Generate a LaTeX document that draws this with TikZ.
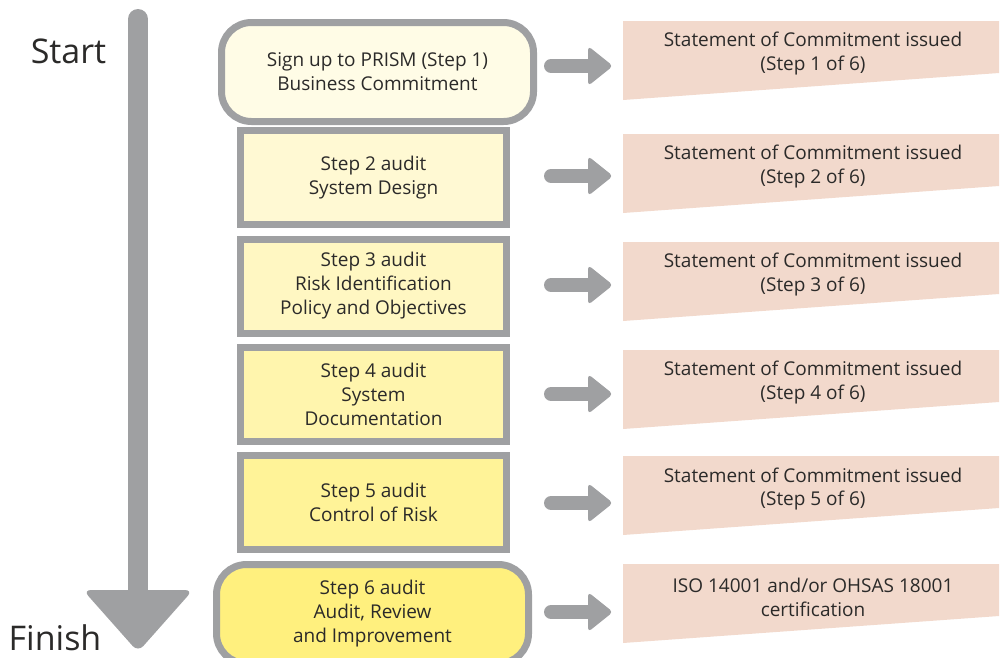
\documentclass[tikz,border=0pt]{standalone}
\usepackage{fontspec}
\setmainfont{Open Sans}
\usetikzlibrary{calc}
\definecolor{grayc}{HTML}{9FA0A2}
\definecolor{txt}{HTML}{2B2A29}
\definecolor{panelc}{HTML}{F2D9CC}
\definecolor{fa}{HTML}{FFFCE6}
\definecolor{fb}{HTML}{FFF9D3}
\definecolor{fc}{HTML}{FFF7C2}
\definecolor{fd}{HTML}{FFF5AD}
\definecolor{fe}{HTML}{FFF398}
\definecolor{ff}{HTML}{FFF07E}
\tikzset{
  stepbox/.style={draw=grayc, line width=7pt, minimum width=266pt, minimum height=94pt,
    align=center, text=txt, inner sep=0pt, font=\fontsize{19pt}{24pt}\selectfont},
  endbox/.style={stepbox, rounded corners=30pt, minimum width=312pt, minimum height=99pt},
  paneltext/.style={align=center, text=txt, inner sep=0pt, font=\fontsize{19pt}{24pt}\selectfont},
  bigword/.style={anchor=base, text=txt, inner sep=0pt, font=\fontsize{34pt}{40pt}\selectfont},
  shaft/.style={draw=grayc, line width=14pt, line cap=round},
  vshaft/.style={draw=grayc, line width=20pt, line cap=round},
  panel/.style={fill=panelc}
}
\begin{document}
\begin{tikzpicture}[x=1pt,y=-1pt]
\useasboundingbox (0,0) rectangle (1003,657);
\begin{scope}
\clip (0,0) rectangle (1003,657);
% vertical progress arrow
\coordinate (vtop) at (138,19);
\coordinate (vtip) at (138,652);
\draw[vshaft] (vtop) -- ($(vtip)+(0,-55)$);
\fill[grayc, rounded corners=8pt] ($(vtip)+(0,-62)$) -- ($(vtip)+(-55,-62)$) -- (vtip) -- ($(vtip)+(55,-62)$) -- cycle;
\node[bigword] (start) at (68.5,63) {Start};
\node[bigword] (finish) at (55,650) {Finish};

% step boxes
\node[endbox, fill=fa] (b1) at (377.5,72) {Sign up to PRISM (Step 1)\\Business Commitment};
\node[stepbox, fill=fb] (b2) at (373.5,177.5) {Step 2 audit\\System Design};
\node[stepbox, fill=fc] (b3) at (373.5,286) {Step 3 audit\\Risk Identification\\Policy and Objectives};
\node[stepbox, fill=fd] (b4) at (373.5,394) {Step 4 audit\\System\\Documentation};
\node[stepbox, fill=fe] (b5) at (373.5,502.5) {Step 5 audit\\Control of Risk};
\node[endbox, fill=ff] (b6) at (372.5,614) {Step 6 audit\\Audit, Review\\and Improvement};

% output panels
\foreach \i/\c in {1/53,2/166,3/274,4/382,5/488,6/596}{
  \fill[panel] (623,\c-32) -- (999,\c-32) -- (999,\c+20) -- (623,\c+47) -- cycle;
}
\node[paneltext] (p1) at (813,54) {Statement of Commitment issued\\(Step 1 of 6)};
\node[paneltext] (p2) at (813,167) {Statement of Commitment issued\\(Step 2 of 6)};
\node[paneltext] (p3) at (813,275) {Statement of Commitment issued\\(Step 3 of 6)};
\node[paneltext] (p4) at (813,383) {Statement of Commitment issued\\(Step 4 of 6)};
\node[paneltext] (p5) at (813,489) {Statement of Commitment issued\\(Step 5 of 6)};
\node[paneltext] (p6) at (813,597) {ISO 14001 and/or OHSAS 18001\\certification};

% small arrows
\foreach \i/\y in {1/66,2/176,3/285,4/394,5/503,6/612}{
  \coordinate (as\i) at (551,\y);
  \coordinate (at\i) at (613,\y);
  \draw[shaft] (as\i) -- ($(at\i)+(-20,0)$);
  \fill[grayc, rounded corners=4pt] ($(at\i)+(-25,0)$) -- ($(at\i)+(-25,-20)$) -- (at\i) -- ($(at\i)+(-25,20)$) -- cycle;
}
\end{scope}
\end{tikzpicture}
\end{document}
